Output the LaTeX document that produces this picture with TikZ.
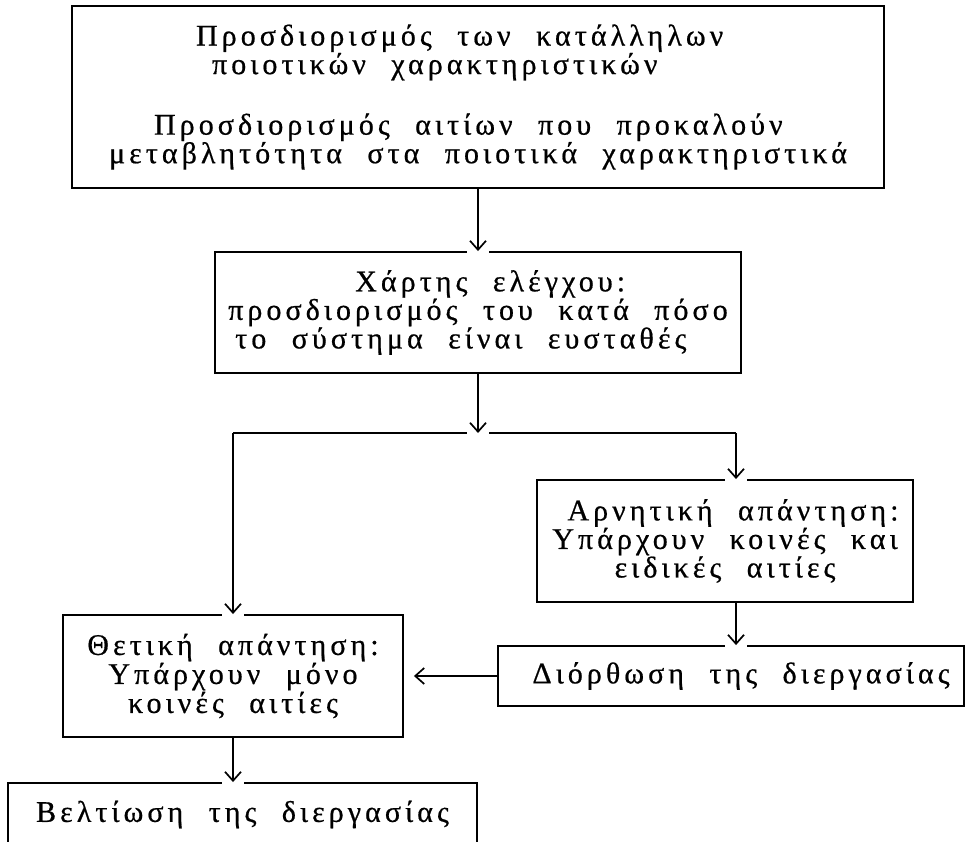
\documentclass[tikz,border=0pt]{standalone}
\usepackage{fontspec}
\setmainfont{Liberation Serif}[LetterSpace=13.5,WordSpace=2.2,FakeBold=0.6]
\usetikzlibrary{arrows.meta,calc}
\newcommand\gapat[1]{\fill[white] ($(#1)+(-11,-2.5)$) rectangle ($(#1)+(11,2.5)$);}
\begin{document}
\begin{tikzpicture}[x=1pt,y=-1pt,
  boxstyle/.style={draw,line width=1.9pt,inner sep=0pt,align=center,anchor=center},
  conn/.style={line width=1.7pt,-{Straight Barb[length=9pt,width=16pt]}},
  plain/.style={line width=1.7pt}]
\clip (0,0) rectangle (972,842);
\fill[white] (0,0) rectangle (972,842);
% boxes
\node[boxstyle,align=left,minimum width=812,minimum height=182,font=\fontsize{30}{24}\selectfont] (top) at (478,97)
  {\hspace*{87pt}Προσδιορισμός των κατάλληλων\\\hspace*{103pt}ποιοτικών χαρακτηριστικών\\[32pt]\hspace*{45pt}Προσδιορισμός αιτίων που προκαλούν\\μεταβλητότητα στα ποιοτικά χαρακτηριστικά};
\node[boxstyle,align=left,minimum width=526,minimum height=121,font=\fontsize{30}{25}\selectfont] (b2) at (478,312.5)
  {\hspace*{127pt}Χάρτης ελέγχου:\\προσδιορισμός του κατά πόσο\\\hspace*{7pt}το σύστημα είναι ευσταθές};
\node[boxstyle,minimum width=376,minimum height=122,font=\fontsize{30}{27}\selectfont] (neg) at (725,541)
  {\hspace*{16pt}Αρνητική απάντηση:\\Υπάρχουν κοινές και\\ειδικές αιτίες};
\node[boxstyle,minimum width=466,minimum height=60,font=\fontsize{30}{27}\selectfont] (cor) at (731,676)
  {\hspace*{20pt}Διόρθωση της διεργασίας};
\node[boxstyle,minimum width=340,minimum height=122,font=\fontsize{30}{29}\selectfont] (pos) at (233,676)
  {Θετική απάντηση:\\Υπάρχουν μόνο\\κοινές αιτίες};
\node[boxstyle,minimum width=469,minimum height=63,font=\fontsize{30}{27}\selectfont] (imp) at (242.5,814.5)
  {Βελτίωση της διεργασίας};
% junction coordinates
\coordinate (jC) at (478,433);
\coordinate (jL) at (233,433);
\coordinate (jR) at (736,433);
\coordinate (negN) at (jR |- neg.north);
\coordinate (negS) at (jR |- neg.south);
\coordinate (corN) at (jR |- cor.north);
\coordinate (impN) at (pos.south |- imp.north);
\coordinate (posE) at ($(pos.east)+(10,0)$);
% gaps where arrow tips meet lines
\draw[plain] (jL) -- (jR);
\gapat{b2.north}
\gapat{jC}
\gapat{pos.north}
\gapat{negN}
\gapat{corN}
\gapat{impN}
% connectors
\draw[conn] (top.south) -- (b2.north);
\draw[conn] (b2.south) -- (jC);
\draw[conn] (jL) -- (pos.north);
\draw[conn] (jR) -- (negN);
\draw[conn] (negS) -- (corN);
\draw[conn] (cor.west) -- (posE);
\draw[conn] (pos.south) -- (impN);
\end{tikzpicture}
\end{document}
